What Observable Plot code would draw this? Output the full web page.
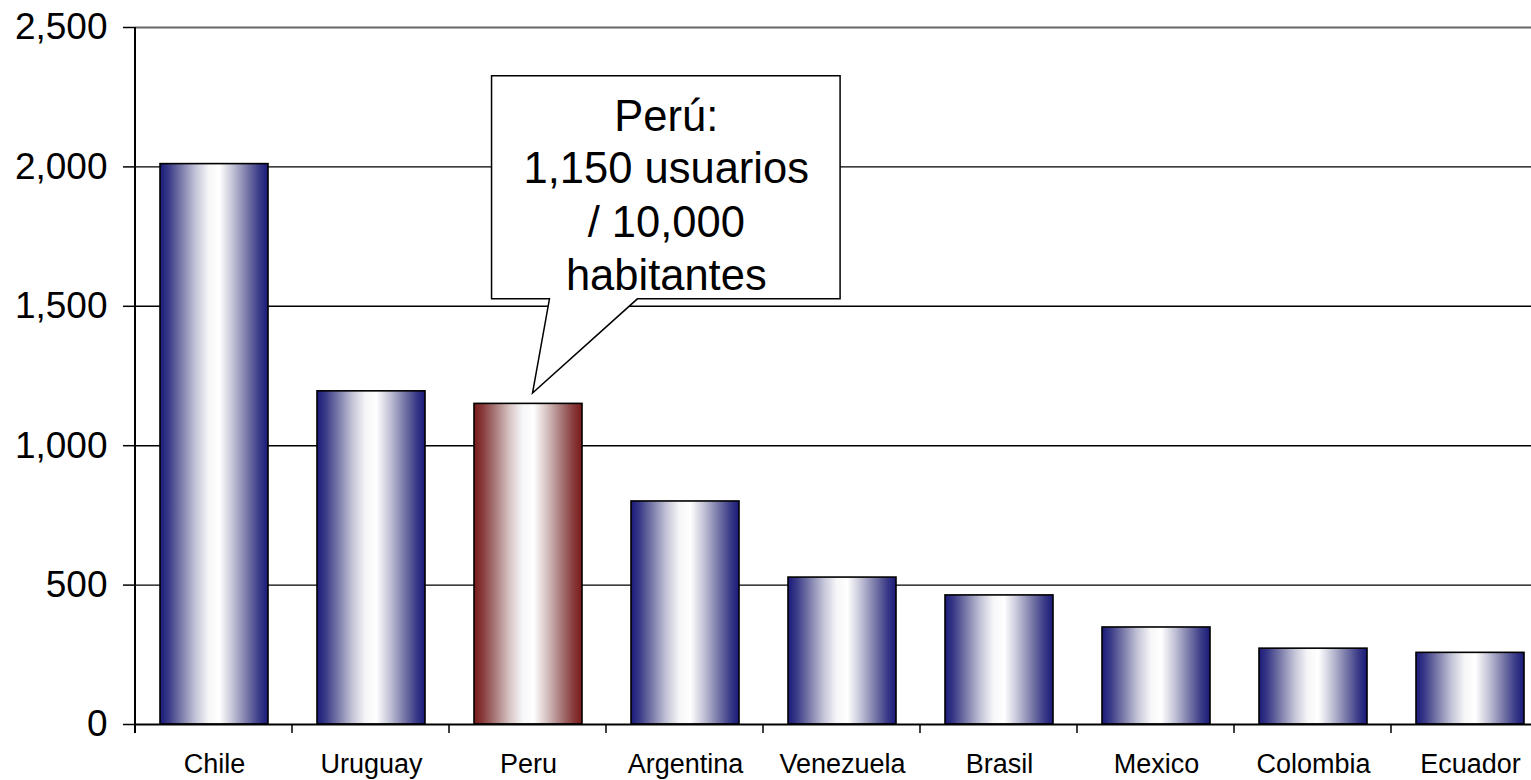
<!DOCTYPE html>
<html><head><meta charset="utf-8">
<script src="https://cdn.jsdelivr.net/npm/d3@7"></script>
<script src="https://cdn.jsdelivr.net/npm/@observablehq/plot@0.6"></script>
<style>
html,body{margin:0;padding:0;overflow:hidden;background:#fff;}
#chart{width:1531px;height:780px;overflow:hidden;}
#chart svg{max-width:none !important;display:block;}
</style></head><body><div id="chart"></div>
<script>
// ---- data ----
const countries = ["Chile","Uruguay","Peru","Argentina","Venezuela","Brasil","Mexico","Colombia","Ecuador"];
const values = [2010,1195,1150,800,527,463,348,272,257];
const highlight = "Peru";
const yTicks = [0,500,1000,1500,2000,2500];
const calloutLines = ["Perú:","1,150 usuarios","/ 10,000","habitantes"];
// callout geometry in data units (x: category-step units from the axis, y: value units)
const calloutBoxX = [2.271, 4.491];
const calloutBoxY = [1525, 2325];
const calloutPointerBaseX = [2.64, 3.20];
const calloutTip = [2.532, 1187];
const calloutTextX = 3.384;
const calloutTextY = [2127, 1940, 1747, 1557];

const data = countries.map((c, i) => ({country: c, value: values[i]}));
const fmt = d3.format(",");
const NS = "http://www.w3.org/2000/svg";

function gradientDefs() {
  const g = document.createElementNS(NS, "g");
  const defs = document.createElementNS(NS, "defs");
  const mk = (id, dark, mids) => {
    const lg = document.createElementNS(NS, "linearGradient");
    lg.setAttribute("id", id);
    lg.setAttribute("x1", "0"); lg.setAttribute("x2", "1");
    lg.setAttribute("y1", "0"); lg.setAttribute("y2", "0");
    const stops = [[0, dark],[0.08, mids[0]],[0.2, mids[1]],[0.33, mids[2]],[0.45, "#f6f6f8"],[0.55, "#ffffff"],[0.67, mids[2]],[0.8, mids[1]],[0.92, mids[0]],[1, dark]];
    for (const [o, c] of stops) {
      const s = document.createElementNS(NS, "stop");
      s.setAttribute("offset", o); s.setAttribute("stop-color", c);
      lg.appendChild(s);
    }
    defs.appendChild(lg);
  };
  mk("gradBlue", "#1a1a7a", ["#3a3a88", "#7c7caa", "#c4c4d8"]);
  mk("gradRed", "#7a1a1a", ["#883a3a", "#aa7c7c", "#d8c4c4"]);
  g.appendChild(defs);
  return g;
}

function decorations(index, scales, values, dim) {
  const x = scales.x, y = scales.y;
  const step = x(countries[1]) - x(countries[0]);
  const x0 = dim.marginLeft;
  const px = f => x0 + f * step;
  const g = d3.create("svg:g");
  const yb = y(0);
  // y axis line
  g.append("line").attr("x1", x0).attr("x2", x0).attr("y1", y(2500)).attr("y2", yb + 9)
    .attr("stroke", "#000").attr("stroke-width", 2);
  // category boundary ticks
  for (let i = 1; i <= countries.length; i++) {
    g.append("line").attr("x1", px(i)).attr("x2", px(i)).attr("y1", yb).attr("y2", yb + 9)
      .attr("stroke", "#000").attr("stroke-width", 1.5);
  }
  // callout
  const bt = y(calloutBoxY[1]), bb = y(calloutBoxY[0]);
  const pts = [
    [px(calloutBoxX[0]), bt], [px(calloutBoxX[1]), bt], [px(calloutBoxX[1]), bb],
    [px(calloutPointerBaseX[1]), bb], [px(calloutTip[0]), y(calloutTip[1])],
    [px(calloutPointerBaseX[0]), bb], [px(calloutBoxX[0]), bb]
  ];
  g.append("path").attr("d", "M" + pts.map(p => p.join(",")).join("L") + "Z")
    .attr("fill", "#fff").attr("stroke", "#000").attr("stroke-width", 1.5);
  calloutLines.forEach((t, i) => {
    g.append("text").attr("x", px(calloutTextX)).attr("y", y(calloutTextY[i]))
      .attr("text-anchor", "middle").attr("font-size", 43.5).attr("fill", "#000").text(t);
  });
  return g.node();
}

const plot = Plot.plot({
  width: 1550,
  height: 780,
  marginLeft: 135,
  marginRight: 0,
  marginTop: 27,
  marginBottom: 56,
  style: {fontFamily: "'Liberation Sans', Arial, sans-serif", background: "#fff", color: "#000", maxWidth: "none"},
  x: {domain: countries, paddingInner: 0.31, paddingOuter: 0.155, label: null},
  y: {domain: [0, 2500], label: null},
  marks: [
    gradientDefs,
    Plot.ruleY(yTicks.filter(d => d > 0 && d < 2500), {stroke: "#000", strokeWidth: 1.4}),
    Plot.ruleY([2500], {stroke: "#666", strokeWidth: 2}),
    Plot.barY(data.filter(d => d.country !== highlight), {x: "country", y: "value", fill: "url(#gradBlue)", stroke: "#000", strokeWidth: 1.6}),
    Plot.barY(data.filter(d => d.country === highlight), {x: "country", y: "value", fill: "url(#gradRed)", stroke: "#000", strokeWidth: 1.6}),
    Plot.ruleY([0], {stroke: "#000", strokeWidth: 2}),
    Plot.axisY({ticks: yTicks, tickFormat: fmt, tickSize: 12, tickPadding: 16, fontSize: 37, strokeWidth: 1.5, label: null}),
    Plot.axisX({tickSize: 0, tickPadding: 29, fontSize: 27, label: null}),
    decorations
  ]
});
plot.style.maxWidth = "none";
document.getElementById("chart").appendChild(plot);
</script></body></html>
